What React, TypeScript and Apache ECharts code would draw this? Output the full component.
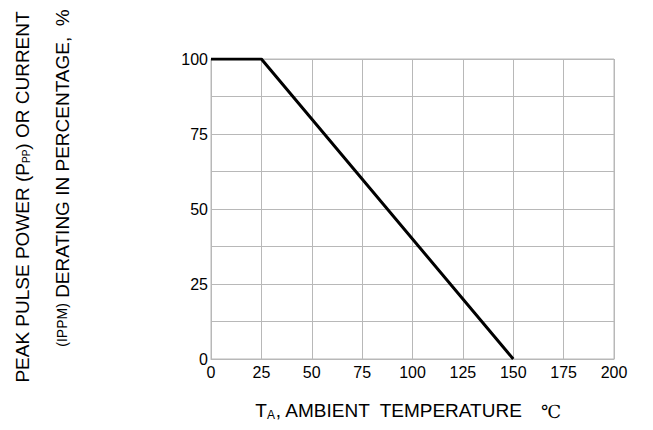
import React, { useEffect, useRef } from "react";
import * as echarts from "echarts";

const temperatures = [0, 25, 150];
const deratingPct = [100, 100, 0];
const xTicks = [0, 25, 50, 75, 100, 125, 150, 175, 200];
const yTicks = [0, 25, 50, 75, 100];

export default function App() {
  const ref = useRef<HTMLDivElement>(null);
  useEffect(() => {
    if (!ref.current) return;
    const chart = echarts.init(ref.current, undefined, { renderer: "svg" });
    const font = "Arial, 'Liberation Sans', sans-serif";
    chart.setOption({
      animation: false,
      backgroundColor: "#ffffff",
      grid: {
        left: 211,
        right: 39,
        top: 59,
        bottom: 71,
        show: true,
        borderColor: "#b8b8b8",
        borderWidth: 1,
      },
      xAxis: {
        type: "value",
        min: xTicks[0],
        max: xTicks[xTicks.length - 1],
        interval: 25,
        axisLine: { show: true, lineStyle: { color: "#b8b8b8", width: 1 } },
        axisTick: { show: false },
        axisLabel: { color: "#000", fontSize: 16, fontFamily: font, margin: 5 },
        splitLine: { show: true, lineStyle: { color: "#b8b8b8", width: 1 } },
      },
      yAxis: {
        type: "value",
        min: yTicks[0],
        max: yTicks[yTicks.length - 1],
        interval: 12.5,
        axisLine: { show: true, lineStyle: { color: "#b8b8b8", width: 1 } },
        axisTick: { show: false },
        axisLabel: {
          color: "#000",
          fontSize: 16,
          fontFamily: font,
          margin: 3,
          formatter: (v: number) => (yTicks.includes(v) ? String(v) : ""),
        },
        splitLine: { show: true, lineStyle: { color: "#b8b8b8", width: 1 } },
      },
      series: [
        {
          type: "line",
          data: temperatures.map((t, i) => [t, deratingPct[i]]),
          symbol: "none",
          lineStyle: { color: "#000", width: 3 },
          z: 5,
        },
      ],
      graphic: [
        {
          type: "text",
          x: 22,
          y: 197,
          rotation: Math.PI / 2,
          style: {
            text: "PEAK PULSE POWER (P{sub|PP}) OR CURRENT",
            fontSize: 19,
            fontFamily: font,
            fill: "#000",
            align: "center",
            verticalAlign: "middle",
            rich: {
              sub: { fontSize: 10, fontFamily: font, fill: "#000", verticalAlign: "bottom" },
            },
          },
        },
        {
          type: "text",
          x: 62,
          y: 178,
          rotation: Math.PI / 2,
          style: {
            text: "{small|(IPPM)} DERATING IN PERCENTAGE,  %",
            fontSize: 19,
            fontFamily: font,
            fill: "#000",
            align: "center",
            verticalAlign: "middle",
            rich: {
              small: { fontSize: 14, fontFamily: font, fill: "#000" },
            },
          },
        },
        {
          type: "text",
          x: 389,
          y: 410,
          style: {
            text: "T{sub|A}, AMBIENT  TEMPERATURE",
            fontSize: 19,
            fontFamily: font,
            fill: "#000",
            align: "center",
            verticalAlign: "middle",
            rich: {
              sub: { fontSize: 12, fontFamily: font, fill: "#000", padding: [10, 0, 0, 0] },
            },
          },
        },
        {
          type: "text",
          x: 551,
          y: 411,
          style: {
            text: "℃",
            fontSize: 18,
            fontFamily: "'DejaVu Serif', serif",
            fill: "#000",
            align: "center",
            verticalAlign: "middle",
          },
        },
      ],
    });
    return () => chart.dispose();
  }, []);
  return <div ref={ref} style={{ width: 653, height: 430, margin: -8 }} />;
}
